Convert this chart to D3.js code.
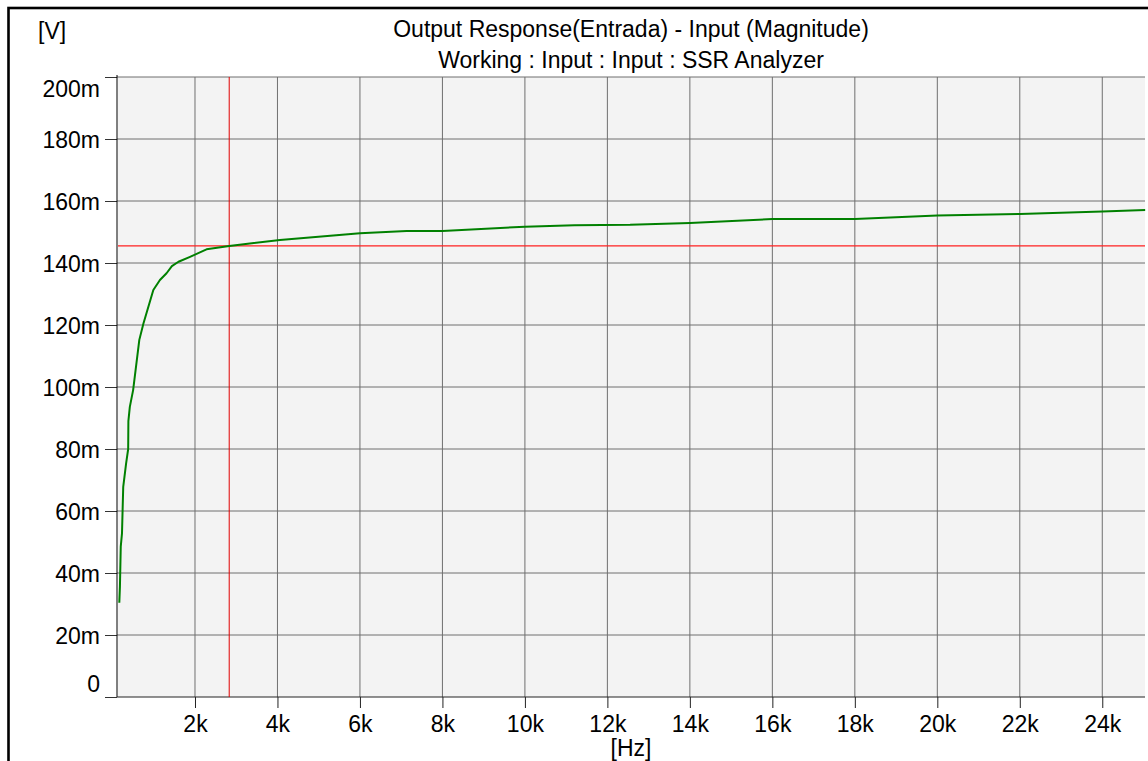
<!DOCTYPE html>
<html>
<head>
<meta charset="utf-8">
<script src="https://cdn.jsdelivr.net/npm/d3@7"></script>
<style>
  html, body { margin: 0; padding: 0; background: #fff; }
  svg { display: block; }
  text { font-family: "Liberation Sans", Arial, sans-serif; fill: #000; }
</style>
</head>
<body>
<script>
// Frequency sweep (Hz) and measured magnitude (mV)
const freqHz = [165, 180, 200, 230, 260, 330, 380, 385, 420, 500, 650, 750, 990, 1150, 1310, 1440, 1600, 1880, 2280, 2830, 3330, 4060, 6000, 7130, 8000, 10000, 11200, 12550, 14000, 16000, 18000, 20000, 22000, 24000, 25040];
const magnitudeMv = [30.4, 35.6, 48.5, 52.8, 67.8, 75.4, 80.0, 89.0, 93.6, 99.0, 115.2, 120.5, 131.3, 134.5, 136.7, 139.0, 140.4, 142.0, 144.4, 145.5, 146.3, 147.4, 149.6, 150.3, 150.3, 151.7, 152.2, 152.3, 152.9, 154.2, 154.2, 155.3, 155.8, 156.6, 157.1];

// Cursor readout
const cursorHz = 2830;
const cursorMv = 145.5;

// Axis ticks
const xTicksHz = [2000, 4000, 6000, 8000, 10000, 12000, 14000, 16000, 18000, 20000, 22000, 24000];
const xTickLabels = ["2k", "4k", "6k", "8k", "10k", "12k", "14k", "16k", "18k", "20k", "22k", "24k"];
const yTicksMv = [0, 20, 40, 60, 80, 100, 120, 140, 160, 180, 200];
const yTickLabels = ["0", "20m", "40m", "60m", "80m", "100m", "120m", "140m", "160m", "180m", "200m"];
const xDomainHz = [109, 25036];
const yDomainMv = [0, 200];

const titleLines = ["Output Response(Entrada) - Input (Magnitude)", "Working : Input : Input : SSR Analyzer"];

const W = 1148, H = 761;
const FS = 23;
const plot = { left: 117, right: 1145, top: 77, bottom: 697 };

const svg = d3.select("body").append("svg").attr("width", W).attr("height", H);
svg.append("rect").attr("width", W).attr("height", H).attr("fill", "#fff");

// Outer frame (runs off the right and bottom edges)
svg.append("rect")
  .attr("x", 8.5).attr("y", 8).attr("width", 1400).attr("height", 1000)
  .attr("fill", "none").attr("stroke", "#000").attr("stroke-width", 2.6);

const x = d3.scaleLinear().domain(xDomainHz).range([plot.left, plot.right]);
const y = d3.scaleLinear().domain(yDomainMv).range([plot.bottom, plot.top]);

// Plot background
svg.append("rect")
  .attr("x", plot.left + 1).attr("y", plot.top)
  .attr("width", plot.right - plot.left - 1).attr("height", plot.bottom - plot.top)
  .attr("fill", "#f3f3f3");

// Grid
const grid = svg.append("g").attr("stroke", "#6f6f6f").attr("stroke-width", 1);
grid.selectAll("line.gx").data(xTicksHz).join("line")
  .attr("x1", d => x(d)).attr("x2", d => x(d))
  .attr("y1", plot.top).attr("y2", plot.bottom);
grid.selectAll("line.gy").data(yTicksMv.filter(d => d > 0)).join("line")
  .attr("x1", plot.left).attr("x2", plot.right)
  .attr("y1", d => y(d)).attr("y2", d => y(d));

// Y axis
const yAxis = svg.append("g")
  .attr("transform", `translate(${plot.left},0)`)
  .call(d3.axisLeft(y).tickValues(yTicksMv).tickSize(12).tickPadding(5)
    .tickFormat((d, i) => yTickLabels[i]));
yAxis.select(".domain").remove();
yAxis.selectAll(".tick line").attr("stroke", "#333");
yAxis.selectAll(".tick text")
  .attr("font-size", FS).attr("font-family", "Liberation Sans, Arial, sans-serif")
  .attr("fill", "#000")
  .attr("dy", d => d === yDomainMv[1] ? "0.86em" : d === yDomainMv[0] ? "-0.23em" : "0.36em");
svg.append("line").attr("x1", plot.left).attr("x2", plot.left)
  .attr("y1", plot.top - 2).attr("y2", plot.bottom).attr("stroke", "#000");

// X axis
const xAxis = svg.append("g")
  .attr("transform", `translate(0,${plot.bottom})`)
  .call(d3.axisBottom(x).tickValues(xTicksHz).tickSize(11).tickPadding(8)
    .tickFormat((d, i) => xTickLabels[i]));
xAxis.select(".domain").remove();
xAxis.selectAll(".tick line").attr("stroke", "#222");
xAxis.selectAll(".tick text")
  .attr("font-size", FS).attr("font-family", "Liberation Sans, Arial, sans-serif")
  .attr("fill", "#000");
svg.append("line").attr("x1", plot.left).attr("x2", plot.right)
  .attr("y1", plot.bottom).attr("y2", plot.bottom).attr("stroke", "#222");

// Cursor lines
svg.append("line")
  .attr("x1", plot.left + 1).attr("x2", plot.right)
  .attr("y1", y(cursorMv)).attr("y2", y(cursorMv))
  .attr("stroke", "#ff2020").attr("stroke-width", 1.2);
svg.append("line")
  .attr("x1", x(cursorHz)).attr("x2", x(cursorHz))
  .attr("y1", plot.top).attr("y2", plot.bottom)
  .attr("stroke", "#e00000").attr("stroke-width", 1);

// Response curve
const series = freqHz.map((f, i) => [f, magnitudeMv[i]]);
svg.append("path")
  .datum(series)
  .attr("fill", "none").attr("stroke", "#008000").attr("stroke-width", 2)
  .attr("stroke-linejoin", "round")
  .attr("d", d3.line().x(d => x(d[0])).y(d => y(d[1])));

// Titles and units
const cx = (plot.left + plot.right) / 2;
svg.append("text").attr("x", cx).attr("y", 37).attr("text-anchor", "middle")
  .attr("font-size", FS).text(titleLines[0]);
svg.append("text").attr("x", cx).attr("y", 68).attr("text-anchor", "middle")
  .attr("font-size", FS).text(titleLines[1]);
svg.append("text").attr("x", 38).attr("y", 39).attr("font-size", FS).text("[V]");
svg.append("text").attr("x", cx).attr("y", 756).attr("text-anchor", "middle")
  .attr("font-size", FS).text("[Hz]");
</script>
</body>
</html>
